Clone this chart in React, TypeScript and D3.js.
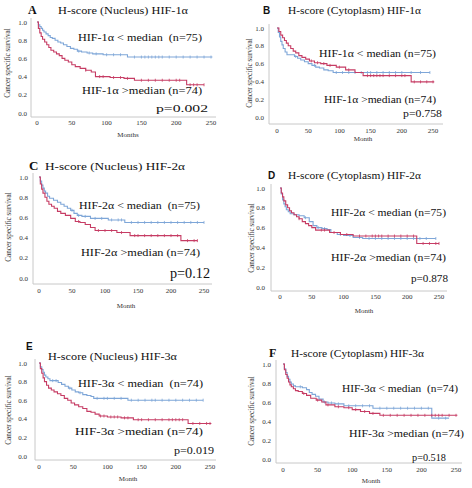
import React from "react";
import * as d3 from "d3";

// ---------- DATA ----------
const letters = ["A", "B", "C", "D", "E", "F"];
const titles = [
  "H-score (Nucleus) HIF-1α",
  "H-score (Cytoplasm) HIF-1α",
  "H-score (Nucleus) HIF-2α",
  "H-score (Cytoplasm) HIF-2α",
  "H-score (Nucleus) HIF-3α",
  "H-score (Cytoplasm) HIF-3α",
];
const lowLabels = [
  "HIF-1α < median  (n=75)",
  "HIF-1α < median (n=75)",
  "HIF-2α < median  (n=75)",
  "HIF-2α < median (n=75)",
  "HIF-3α < median  (n=74)",
  "HIF-3α < median  (n=74)",
];
const highLabels = [
  "HIF-1α >median (n=74)",
  "HIF-1α >median (n=74)",
  "HIF-2α >median (n=74)",
  "HIF-2α >median (n=74)",
  "HIF-3α >median (n=74)",
  "HIF-3α >median (n=74)",
];
const pValues = ["p=0.002", "p=0.758", "p=0.12", "p=0.878", "p=0.019", "p=0.518"];
const xLabels = ["Months", "Month", "Month", "Month", "Month", "Month"];
const yLabel = "Cancer specific survival";
const xTicks = [0, 50, 100, 150, 200, 250];
const yTicks = [0, 0.2, 0.4, 0.6, 0.8, 1.0];

// Panel A
const aLowT = [0, 2, 4, 6, 8, 10, 13, 16, 19, 22, 26, 30, 34, 38, 43, 48, 53, 58, 64, 72, 80, 95, 130];
const aLowS = [1.0, 0.97, 0.95, 0.93, 0.91, 0.89, 0.87, 0.85, 0.83, 0.82, 0.8, 0.78, 0.77, 0.75, 0.73, 0.71, 0.7, 0.68, 0.67, 0.66, 0.65, 0.64, 0.615];
const aLowEnd = 252;
const aLowC = [60, 75, 85, 100, 110, 120, 140, 150, 155, 160, 165, 170, 175, 180, 190, 200, 210, 220, 230, 240, 250];
const aHighT = [0, 2, 4, 6, 8, 11, 14, 17, 20, 24, 28, 32, 36, 40, 45, 50, 55, 62, 70, 78, 84, 105, 125, 140, 215];
const aHighS = [1.0, 0.93, 0.88, 0.84, 0.81, 0.78, 0.75, 0.72, 0.69, 0.67, 0.65, 0.63, 0.6, 0.58, 0.56, 0.53, 0.51, 0.49, 0.47, 0.45, 0.4, 0.39, 0.38, 0.36, 0.31];
const aHighEnd = 240;
const aHighC = [70, 90, 95, 110, 120, 130, 150, 160, 170, 180, 190, 200, 205, 220, 225, 230, 240];

// Panel B
const bLowT = [0, 2, 4, 6, 8, 10, 13, 16, 28, 33, 38, 44, 50, 56, 62, 68, 75, 82, 90];
const bLowS = [1.0, 0.95, 0.9, 0.85, 0.81, 0.77, 0.73, 0.7, 0.68, 0.66, 0.64, 0.62, 0.6, 0.58, 0.56, 0.55, 0.53, 0.52, 0.5];
const bLowEnd = 245;
const bLowC = [30, 60, 95, 105, 115, 125, 135, 145, 150, 160, 170, 180, 190, 200, 215, 230, 245];
const bHighT = [0, 3, 6, 9, 12, 15, 18, 22, 26, 30, 35, 40, 46, 52, 60, 70, 80, 95, 110, 125, 138, 215];
const bHighS = [1.0, 0.96, 0.92, 0.89, 0.86, 0.83, 0.8, 0.77, 0.74, 0.72, 0.69, 0.67, 0.65, 0.63, 0.61, 0.6, 0.58, 0.56, 0.53, 0.5, 0.465, 0.395];
const bHighEnd = 252;
const bHighC = [55, 65, 75, 85, 100, 115, 145, 150, 155, 160, 165, 170, 180, 190, 200, 205, 220, 230, 240, 250];

// Panel C
const cLowT = [0, 2, 4, 6, 8, 10, 13, 16, 22, 28, 33, 38, 43, 48, 53, 58, 65, 78, 105, 130];
const cLowS = [1.0, 0.96, 0.92, 0.89, 0.86, 0.84, 0.81, 0.79, 0.77, 0.75, 0.73, 0.71, 0.69, 0.67, 0.64, 0.62, 0.61, 0.59, 0.575, 0.55];
const cLowEnd = 250;
const cLowC = [50, 60, 70, 85, 95, 110, 120, 125, 140, 150, 160, 170, 180, 190, 200, 210, 220, 230, 240, 250];
const cHighT = [0, 2, 4, 6, 9, 12, 15, 19, 23, 28, 33, 40, 48, 55, 62, 70, 78, 85, 118, 138, 215];
const cHighS = [1.0, 0.93, 0.88, 0.84, 0.8, 0.76, 0.73, 0.71, 0.69, 0.66, 0.64, 0.62, 0.59, 0.56, 0.55, 0.53, 0.5, 0.47, 0.45, 0.42, 0.37];
const cHighEnd = 240;
const cHighC = [60, 90, 100, 110, 125, 145, 150, 160, 170, 180, 190, 200, 210, 225, 235, 240];

// Panel D
const dLowT = [0, 2, 4, 6, 8, 10, 13, 16, 22, 30, 38, 46, 52, 58, 66, 74, 80, 90, 100, 115, 130];
const dLowS = [1.0, 0.94, 0.88, 0.84, 0.81, 0.78, 0.76, 0.74, 0.73, 0.72, 0.7, 0.66, 0.62, 0.6, 0.59, 0.58, 0.55, 0.53, 0.52, 0.5, 0.49];
const dLowEnd = 245;
const dLowC = [40, 60, 70, 95, 110, 125, 140, 150, 160, 170, 180, 190, 200, 210, 220, 230, 245];
const dHighT = [0, 2, 4, 6, 9, 12, 15, 18, 22, 26, 30, 35, 40, 45, 50, 56, 78, 95, 115, 215];
const dHighS = [1.0, 0.95, 0.91, 0.87, 0.83, 0.8, 0.77, 0.75, 0.73, 0.71, 0.69, 0.66, 0.64, 0.62, 0.6, 0.575, 0.55, 0.53, 0.515, 0.44];
const dHighEnd = 250;
const dHighC = [30, 65, 70, 85, 105, 125, 135, 145, 150, 155, 160, 170, 180, 190, 200, 210, 225, 235, 245, 250];

// Panel E
const eLowT = [0, 2, 4, 6, 8, 10, 13, 16, 28, 33, 38, 43, 48, 53, 58, 64, 70, 76, 80, 130];
const eLowS = [1.0, 0.96, 0.93, 0.9, 0.87, 0.85, 0.83, 0.81, 0.79, 0.77, 0.75, 0.73, 0.71, 0.69, 0.68, 0.66, 0.65, 0.64, 0.62, 0.6];
const eLowEnd = 240;
const eLowC = [20, 25, 45, 60, 85, 95, 100, 110, 120, 135, 145, 155, 165, 170, 180, 190, 200, 210, 220, 230, 240];
const eHighT = [0, 2, 4, 6, 8, 11, 14, 18, 22, 27, 32, 37, 42, 47, 52, 58, 64, 70, 76, 82, 88, 100, 120, 138, 218];
const eHighS = [1.0, 0.94, 0.89, 0.84, 0.8, 0.76, 0.73, 0.71, 0.69, 0.67, 0.65, 0.62, 0.6, 0.57, 0.55, 0.53, 0.51, 0.48, 0.47, 0.45, 0.43, 0.42, 0.41, 0.39, 0.35];
const eHighEnd = 252;
const eHighC = [90, 95, 105, 110, 115, 125, 130, 145, 150, 160, 170, 180, 190, 195, 200, 205, 210, 225, 235, 245, 250];

// Panel F
const fLowT = [0, 2, 4, 6, 8, 10, 12, 15, 18, 28, 34, 38, 42, 47, 52, 58, 65, 75, 88, 130, 215];
const fLowS = [1.0, 0.95, 0.91, 0.87, 0.84, 0.81, 0.79, 0.77, 0.76, 0.75, 0.73, 0.7, 0.68, 0.66, 0.63, 0.6, 0.59, 0.58, 0.56, 0.535, 0.43];
const fLowEnd = 240;
const fLowC = [25, 60, 70, 80, 95, 105, 115, 125, 140, 150, 160, 170, 180, 190, 200, 210, 225, 235];
const fHighT = [0, 2, 4, 6, 8, 10, 12, 15, 18, 22, 28, 34, 40, 48, 56, 62, 75, 88, 100, 112, 125, 140];
const fHighS = [1.0, 0.94, 0.89, 0.85, 0.81, 0.78, 0.76, 0.74, 0.72, 0.71, 0.69, 0.67, 0.64, 0.62, 0.6, 0.57, 0.55, 0.54, 0.52, 0.5, 0.48, 0.46];
const fHighEnd = 252;
const fHighC = [30, 50, 65, 80, 95, 105, 118, 130, 145, 155, 165, 175, 185, 195, 205, 215, 220, 225, 230, 240, 250];

const series = [
  [{ t: aLowT, s: aLowS, end: aLowEnd, c: aLowC }, { t: aHighT, s: aHighS, end: aHighEnd, c: aHighC }],
  [{ t: bLowT, s: bLowS, end: bLowEnd, c: bLowC }, { t: bHighT, s: bHighS, end: bHighEnd, c: bHighC }],
  [{ t: cLowT, s: cLowS, end: cLowEnd, c: cLowC }, { t: cHighT, s: cHighS, end: cHighEnd, c: cHighC }],
  [{ t: dLowT, s: dLowS, end: dLowEnd, c: dLowC }, { t: dHighT, s: dHighS, end: dHighEnd, c: dHighC }],
  [{ t: eLowT, s: eLowS, end: eLowEnd, c: eLowC }, { t: eHighT, s: eHighS, end: eHighEnd, c: eHighC }],
  [{ t: fLowT, s: fLowS, end: fLowEnd, c: fLowC }, { t: fHighT, s: fHighS, end: fHighEnd, c: fHighC }],
];

// ---------- LAYOUT ----------
const SERIF = "Liberation Serif";
const SANS = "Liberation Sans";
const BLUE = "#7ea6d8";
const RED = "#c63c64";
const AXIS = "#c8c8c8";

type Layout = {
  ax: number; x0: number; x250: number; y1: number; y0: number; axY: number; top: number; right: number;
  tickY: number; tickR: number; xlab: [number, number]; ylab: [number, number];
  letter: [number, number, string, number]; title: [number, number, number];
  low: [number, number, number]; high: [number, number, number]; p: [number, number, number, number];
};

const layouts: Layout[] = [
  { ax: 31, x0: 37, x250: 211, y1: 22, y0: 113, axY: 117, top: 18, right: 216, tickY: 125, tickR: 27,
    xlab: [128, 137], ylab: [7, 63], letter: [28, 14, SERIF, 12], title: [58, 14, 130],
    low: [78, 41, 124], high: [82, 94, 120], p: [156, 112, 52, 11] },
  { ax: 269, x0: 277, x250: 433, y1: 28, y0: 117, axY: 124, top: 24, right: 443, tickY: 133, tickR: 264,
    xlab: [363, 141], ylab: [249, 73], letter: [263, 14, SANS, 10], title: [288, 14, 133],
    low: [319, 57, 117], high: [324, 103, 112], p: [403, 117, 39, 11] },
  { ax: 33, x0: 39, x250: 204, y1: 177, y0: 278, axY: 284, top: 173, right: 212, tickY: 293, tickR: 28,
    xlab: [126, 308], ylab: [8, 227], letter: [29, 170, SERIF, 13], title: [45, 170, 140],
    low: [79, 209, 121], high: [81, 256, 119], p: [170, 278, 40, 14] },
  { ax: 271, x0: 280, x250: 439, y1: 188, y0: 287, axY: 291, top: 184, right: 447, tickY: 299, tickR: 265,
    xlab: [364, 313], ylab: [251, 238], letter: [268, 179, SANS, 10], title: [288, 179, 133],
    low: [331, 216, 115], high: [331, 261, 115], p: [411, 282, 37, 11] },
  { ax: 35, x0: 39, x250: 210, y1: 363, y0: 456, axY: 460, top: 359, right: 216, tickY: 469, tickR: 27,
    xlab: [128, 481], ylab: [8, 410], letter: [26, 350, SANS, 10], title: [48, 360, 129],
    low: [78, 387, 125], high: [75, 435, 128], p: [174, 454, 40, 11] },
  { ax: 276, x0: 283, x250: 456, y1: 364, y0: 459, axY: 463, top: 360, right: 462, tickY: 472, tickR: 271,
    xlab: [371, 483], ylab: [251, 411], letter: [269, 357, SERIF, 12], title: [291, 357, 133],
    low: [342, 392, 116], high: [349, 437, 115], p: [412, 461, 34, 11] },
];

function survAt(t: number[], s: number[], time: number) {
  const i = d3.bisectRight(t, time) - 1;
  return s[Math.max(0, i)];
}

function Panel({ i }: { i: number }) {
  const L = layouts[i];
  const x = d3.scaleLinear().domain([0, 250]).range([L.x0, L.x250]);
  const y = d3.scaleLinear().domain([0, 1]).range([L.y0, L.y1]);
  const line = d3
    .line<[number, number]>()
    .x((d) => x(d[0]))
    .y((d) => y(d[1]))
    .curve(d3.curveStepAfter);
  const colors = [BLUE, RED];
  return (
    <g>
      <line x1={L.ax} x2={L.ax} y1={L.top} y2={L.axY} stroke={AXIS} strokeWidth={1} />
      <line x1={L.ax} x2={L.right} y1={L.axY} y2={L.axY} stroke={AXIS} strokeWidth={1} />
      {yTicks.map((v) => (
        <text key={"y" + v} x={L.tickR} y={y(v) + 2.5} fontSize={7} fontFamily={SERIF} textAnchor="end" fill="#333">
          {v.toFixed(1)}
        </text>
      ))}
      {xTicks.map((v) => (
        <text key={"x" + v} x={x(v)} y={L.tickY} fontSize={7} fontFamily={SERIF} textAnchor="middle" fill="#333">
          {v}
        </text>
      ))}
      <text x={L.xlab[0]} y={L.xlab[1]} fontSize={7} fontFamily={SERIF} textAnchor="middle" fill="#333">
        {xLabels[i]}
      </text>
      <text
        transform={`translate(${L.ylab[0] + 2.5},${L.ylab[1]}) rotate(-90)`}
        fontSize={7.2}
        fontFamily={SERIF}
        textAnchor="middle"
        fill="#333"
      >
        {yLabel}
      </text>
      {series[i].map((sr, k) => {
        const pts: [number, number][] = sr.t.map((tt, j) => [tt, sr.s[j]] as [number, number]);
        pts.push([sr.end, sr.s[sr.s.length - 1]]);
        return (
          <g key={k}>
            <path d={line(pts) || ""} fill="none" stroke={colors[k]} strokeWidth={1.1} />
            {sr.c.map((c) => (
              <line
                key={c}
                x1={x(c)}
                x2={x(c)}
                y1={y(survAt(sr.t, sr.s, c)) - 1.5}
                y2={y(survAt(sr.t, sr.s, c)) + 1.5}
                stroke={colors[k]}
                strokeWidth={0.8}
              />
            ))}
          </g>
        );
      })}
      <text x={L.letter[0]} y={L.letter[1]} fontSize={L.letter[3]} fontFamily={L.letter[2]} fontWeight="bold" fill="#111">
        {letters[i]}
      </text>
      <text x={L.title[0]} y={L.title[1]} fontSize={11} fontFamily={SERIF} fill="#111" textLength={L.title[2]} lengthAdjust="spacingAndGlyphs">
        {titles[i]}
      </text>
      <text x={L.low[0]} y={L.low[1]} fontSize={11} fontFamily={SERIF} fill="#111" textLength={L.low[2]} lengthAdjust="spacingAndGlyphs" style={{ whiteSpace: "pre" }}>
        {lowLabels[i]}
      </text>
      <text x={L.high[0]} y={L.high[1]} fontSize={11} fontFamily={SERIF} fill="#111" textLength={L.high[2]} lengthAdjust="spacingAndGlyphs">
        {highLabels[i]}
      </text>
      <text x={L.p[0]} y={L.p[1]} fontSize={L.p[3]} fontFamily={SERIF} fill="#111" textLength={L.p[2]} lengthAdjust="spacingAndGlyphs">
        {pValues[i]}
      </text>
    </g>
  );
}

export default function App() {
  return (
    <svg
      width={472}
      height={488}
      style={{ position: "absolute", left: 0, top: 0, background: "#fff" }}
      xmlns="http://www.w3.org/2000/svg"
    >
      <rect width={472} height={488} fill="#fff" />
      {letters.map((_, i) => (
        <Panel key={i} i={i} />
      ))}
    </svg>
  );
}
